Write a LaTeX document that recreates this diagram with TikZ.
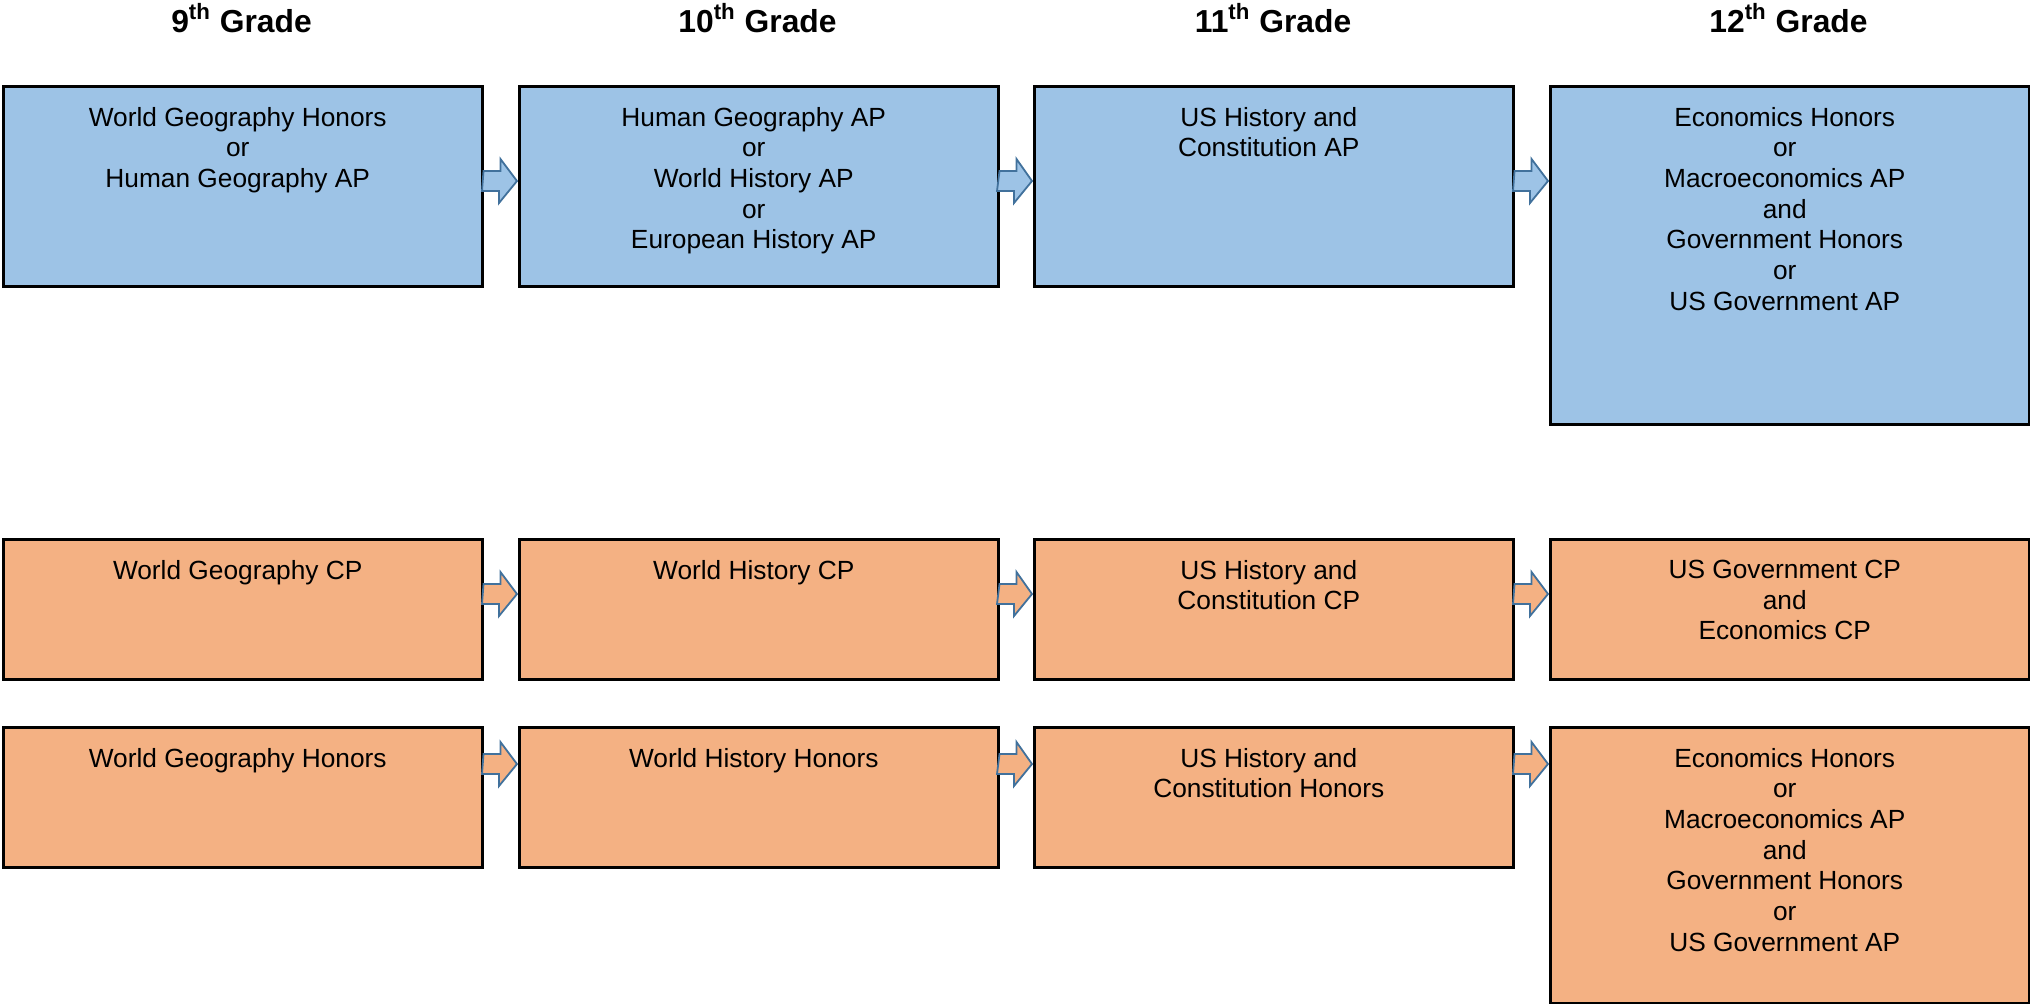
\documentclass[tikz,border=0pt]{standalone}
\usepackage{fontspec}
\setmainfont{Liberation Sans}
\usepackage{xcolor}
\definecolor{apBlue}{HTML}{9DC3E6}
\definecolor{cpOrange}{HTML}{F4B183}
\definecolor{arrowEdge}{HTML}{41719C}
\usetikzlibrary{calc}

\tikzset{
  course/.style={draw=black, line width=1.25pt, minimum width=239.5pt, inner sep=0pt, anchor=north west},
  coursetext/.style={anchor=north, align=center, inner sep=0pt, font=\fontsize{13.15}{15.35}\selectfont},
  gradehead/.style={anchor=base, font=\fontsize{15.9}{18}\selectfont\bfseries},
  flow/.style={draw=arrowEdge, line width=0.9pt, line join=miter}
}
% block arrow: from box, to box, drop below the row top, fill
\newcommand{\flowarrow}[4]{%
  \draw[flow, fill=#4] ($(#1.north east)+(0,-#3+10)$) -- ++(17,0) -- ++(0,12)
    -- ($(#2.north west)+(-1,-#3)$) -- ++(-18,-22) -- ++(0,12) -- ++(-17,0) -- cycle;}

\begin{document}
\begin{tikzpicture}[x=0.5pt, y=0.5pt]
  \useasboundingbox (0,0) rectangle (2030,-1003);
  % grade headers
  \node[gradehead] (h9)  at (241.5,-32.5)  {9\textsuperscript{th} Grade};
  \node[gradehead] (h10) at (757.5,-32.5)  {10\textsuperscript{th} Grade};
  \node[gradehead] (h11) at (1273,-32.5)   {11\textsuperscript{th} Grade};
  \node[gradehead] (h12) at (1788.5,-32.5) {12\textsuperscript{th} Grade};
  % AP track (blue)
  \node[course, fill=apBlue, minimum height=100pt] (ap9)  at (2,-85)    {};
  \node[course, fill=apBlue, minimum height=100pt] (ap10) at (518,-85)  {};
  \node[course, fill=apBlue, minimum height=100pt] (ap11) at (1033,-85) {};
  \node[course, fill=apBlue, minimum height=169pt] (ap12) at (1549,-85) {};
  \node[coursetext] (ap9t)  at ($(ap9.north)+(-5,-21.7)$)  {World Geography Honors\\or\\Human Geography AP};
  \node[coursetext] (ap10t) at ($(ap10.north)+(-5,-21.7)$) {Human Geography AP\\or\\World History AP\\or\\European History AP};
  \node[coursetext] (ap11t) at ($(ap11.north)+(-5,-21.7)$) {US History and\\Constitution AP};
  \node[coursetext] (ap12t) at ($(ap12.north)+(-5,-21.7)$) {Economics Honors\\or\\Macroeconomics AP\\and\\Government Honors\\or\\US Government AP};
  % CP track (orange)
  \node[course, fill=cpOrange, minimum height=70pt] (cp9)  at (2,-538)    {};
  \node[course, fill=cpOrange, minimum height=70pt] (cp10) at (518,-538)  {};
  \node[course, fill=cpOrange, minimum height=70pt] (cp11) at (1033,-538) {};
  \node[course, fill=cpOrange, minimum height=70pt] (cp12) at (1549,-538) {};
  \node[coursetext] (cp9t)  at ($(cp9.north)+(-5,-21.7)$)  {World Geography CP};
  \node[coursetext] (cp10t) at ($(cp10.north)+(-5,-21.7)$) {World History CP};
  \node[coursetext] (cp11t) at ($(cp11.north)+(-5,-21.7)$) {US History and\\Constitution CP};
  \node[coursetext] (cp12t) at ($(cp12.north)+(-5,-21.7)$) {US Government CP\\and\\Economics CP};
  % Honors track (orange)
  \node[course, fill=cpOrange, minimum height=70pt]  (hn9)  at (2,-726)    {};
  \node[course, fill=cpOrange, minimum height=70pt]  (hn10) at (518,-726)  {};
  \node[course, fill=cpOrange, minimum height=70pt]  (hn11) at (1033,-726) {};
  \node[course, fill=cpOrange, minimum height=138pt] (hn12) at (1549,-726) {};
  \node[coursetext] (hn9t)  at ($(hn9.north)+(-5,-21.7)$)  {World Geography Honors};
  \node[coursetext] (hn10t) at ($(hn10.north)+(-5,-21.7)$) {World History Honors};
  \node[coursetext] (hn11t) at ($(hn11.north)+(-5,-21.7)$) {US History and\\Constitution Honors};
  \node[coursetext] (hn12t) at ($(hn12.north)+(-5,-21.7)$) {Economics Honors\\or\\Macroeconomics AP\\and\\Government Honors\\or\\US Government AP};
  % arrows between the years
  \flowarrow{ap9}{ap10}{96}{apBlue}
  \flowarrow{ap10}{ap11}{96}{apBlue}
  \flowarrow{ap11}{ap12}{96}{apBlue}
  \flowarrow{cp9}{cp10}{56}{cpOrange}
  \flowarrow{cp10}{cp11}{56}{cpOrange}
  \flowarrow{cp11}{cp12}{56}{cpOrange}
  \flowarrow{hn9}{hn10}{38}{cpOrange}
  \flowarrow{hn10}{hn11}{38}{cpOrange}
  \flowarrow{hn11}{hn12}{38}{cpOrange}
\end{tikzpicture}
\end{document}
